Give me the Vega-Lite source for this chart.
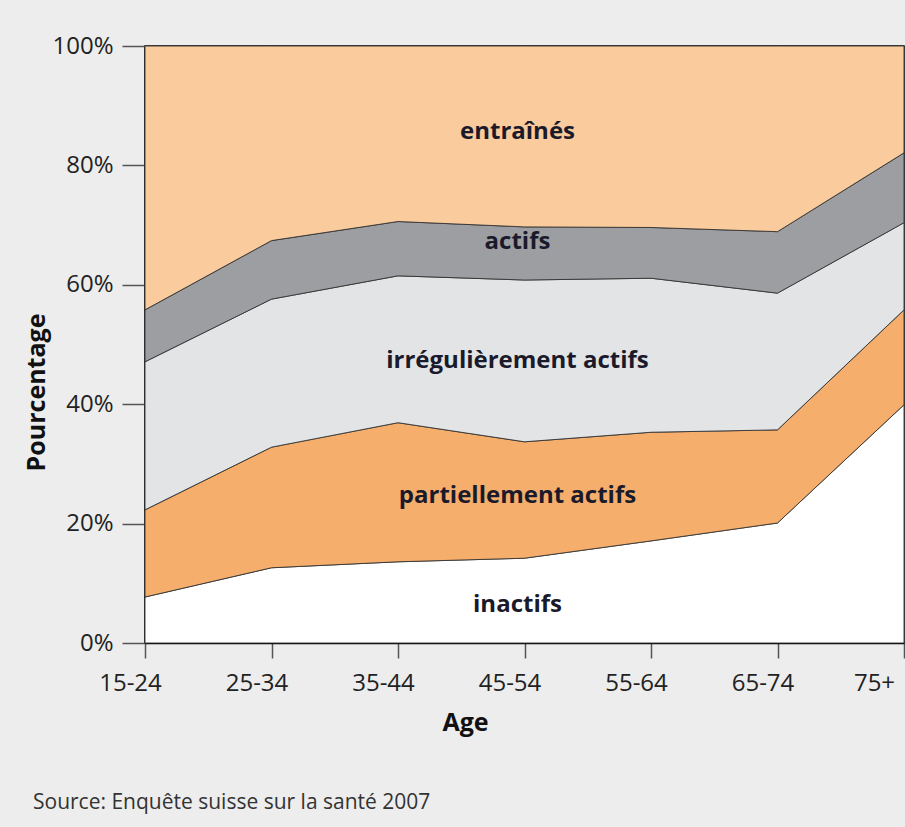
{
  "$schema": "https://vega.github.io/schema/vega-lite/v6.json",
  "width": 759,
  "height": 597,
  "autosize": {"type": "none"},
  "padding": {"left": 145, "top": 46, "right": 1, "bottom": 184},
  "background": "#ecedec",
  "config": {
    "view": {"stroke": "#000", "strokeWidth": 1.5},
    "font": "Open Sans"
  },
  "title": {
    "text": "Source: Enquête suisse sur la santé 2007",
    "orient": "bottom",
    "anchor": "start",
    "frame": "group",
    "dx": -112,
    "offset": 57,
    "font": "Open Sans",
    "fontSize": 21,
    "fontWeight": "normal",
    "color": "#333"
  },
  "layer": [
    {
      "data": {
        "values": [
          {"age": "15-24", "cat": "inactifs", "rank": 1, "value": 7.7},
          {"age": "15-24", "cat": "partiellement actifs", "rank": 2, "value": 14.6},
          {"age": "15-24", "cat": "irrégulièrement actifs", "rank": 3, "value": 24.8},
          {"age": "15-24", "cat": "actifs", "rank": 4, "value": 8.7},
          {"age": "15-24", "cat": "entraînés", "rank": 5, "value": 44.2},
          {"age": "25-34", "cat": "inactifs", "rank": 1, "value": 12.6},
          {"age": "25-34", "cat": "partiellement actifs", "rank": 2, "value": 20.2},
          {"age": "25-34", "cat": "irrégulièrement actifs", "rank": 3, "value": 24.8},
          {"age": "25-34", "cat": "actifs", "rank": 4, "value": 9.8},
          {"age": "25-34", "cat": "entraînés", "rank": 5, "value": 32.6},
          {"age": "35-44", "cat": "inactifs", "rank": 1, "value": 13.6},
          {"age": "35-44", "cat": "partiellement actifs", "rank": 2, "value": 23.3},
          {"age": "35-44", "cat": "irrégulièrement actifs", "rank": 3, "value": 24.6},
          {"age": "35-44", "cat": "actifs", "rank": 4, "value": 9.1},
          {"age": "35-44", "cat": "entraînés", "rank": 5, "value": 29.4},
          {"age": "45-54", "cat": "inactifs", "rank": 1, "value": 14.2},
          {"age": "45-54", "cat": "partiellement actifs", "rank": 2, "value": 19.5},
          {"age": "45-54", "cat": "irrégulièrement actifs", "rank": 3, "value": 27.1},
          {"age": "45-54", "cat": "actifs", "rank": 4, "value": 8.9},
          {"age": "45-54", "cat": "entraînés", "rank": 5, "value": 30.3},
          {"age": "55-64", "cat": "inactifs", "rank": 1, "value": 17.1},
          {"age": "55-64", "cat": "partiellement actifs", "rank": 2, "value": 18.2},
          {"age": "55-64", "cat": "irrégulièrement actifs", "rank": 3, "value": 25.8},
          {"age": "55-64", "cat": "actifs", "rank": 4, "value": 8.5},
          {"age": "55-64", "cat": "entraînés", "rank": 5, "value": 30.4},
          {"age": "65-74", "cat": "inactifs", "rank": 1, "value": 20.1},
          {"age": "65-74", "cat": "partiellement actifs", "rank": 2, "value": 15.6},
          {"age": "65-74", "cat": "irrégulièrement actifs", "rank": 3, "value": 22.9},
          {"age": "65-74", "cat": "actifs", "rank": 4, "value": 10.3},
          {"age": "65-74", "cat": "entraînés", "rank": 5, "value": 31.1},
          {"age": "75+", "cat": "inactifs", "rank": 1, "value": 39.9},
          {"age": "75+", "cat": "partiellement actifs", "rank": 2, "value": 15.9},
          {"age": "75+", "cat": "irrégulièrement actifs", "rank": 3, "value": 14.6},
          {"age": "75+", "cat": "actifs", "rank": 4, "value": 11.7},
          {"age": "75+", "cat": "entraînés", "rank": 5, "value": 17.9}
        ]
      },
      "mark": {"type": "area", "stroke": "#333", "strokeWidth": 0.9},
      "encoding": {
        "x": {
          "field": "age",
          "type": "ordinal",
          "scale": {"type": "point", "padding": 0},
          "axis": {
            "title": "Age",
            "titleFont": "Open Sans",
            "titleFontSize": 25,
            "titleFontWeight": "bold",
            "titleColor": "#111",
            "titlePadding": 15,
            "titleX": 320,
            "labelAngle": 0,
            "labelFont": "Open Sans",
            "labelFontSize": 24,
            "labelFontWeight": 500,
            "labelColor": "#222",
            "labelPadding": 13,
            "labelOffset": {"condition": {"test": "datum.value == '75+'", "value": -30}, "value": -15},
            "labelOverlap": false,
            "labelFlush": false,
            "domainColor": "#000",
            "domainWidth": 1.5,
            "tickColor": "#555",
            "tickWidth": 1.5,
            "tickSize": 15
          }
        },
        "y": {
          "field": "value",
          "type": "quantitative",
          "stack": "zero",
          "scale": {"domain": [0, 100], "nice": false},
          "axis": {
            "title": "Pourcentage",
            "titleFont": "Open Sans",
            "titleFontSize": 25,
            "titleFontWeight": "bold",
            "titleColor": "#111",
            "titlePadding": 2,
            "titleY": 346,
            "values": [0, 20, 40, 60, 80, 100],
            "labelExpr": "datum.value + '%'",
            "labelFont": "Open Sans",
            "labelFontSize": 24,
            "labelFontWeight": 500,
            "labelColor": "#222",
            "labelPadding": 9,
            "domainColor": "#000",
            "domainWidth": 1.5,
            "tickColor": "#555",
            "tickWidth": 1.5,
            "tickSize": 23,
            "grid": false
          }
        },
        "color": {
          "field": "cat",
          "type": "nominal",
          "scale": {
            "domain": ["inactifs", "partiellement actifs", "irrégulièrement actifs", "actifs", "entraînés"],
            "range": ["#ffffff", "#f5ae6c", "#e3e4e6", "#9d9ea1", "#f9cb9d"]
          },
          "legend": null
        },
        "order": {"field": "rank", "type": "quantitative", "sort": "ascending"}
      }
    },
    {
      "data": {
        "values": [
          {"age": "45-54", "y": 85.6, "label": "entraînés"},
          {"age": "45-54", "y": 67.2, "label": "actifs"},
          {"age": "45-54", "y": 47.2, "label": "irrégulièrement actifs"},
          {"age": "45-54", "y": 24.6, "label": "partiellement actifs"},
          {"age": "45-54", "y": 6.4, "label": "inactifs"}
        ]
      },
      "mark": {
        "type": "text",
        "font": "Open Sans",
        "fontSize": 24,
        "fontWeight": "bold",
        "color": "#1a1a2a",
        "dx": -7,
        "baseline": "middle",
        "align": "center"
      },
      "encoding": {
        "x": {"field": "age", "type": "ordinal"},
        "y": {"field": "y", "type": "quantitative"},
        "text": {"field": "label"}
      }
    }
  ]
}
